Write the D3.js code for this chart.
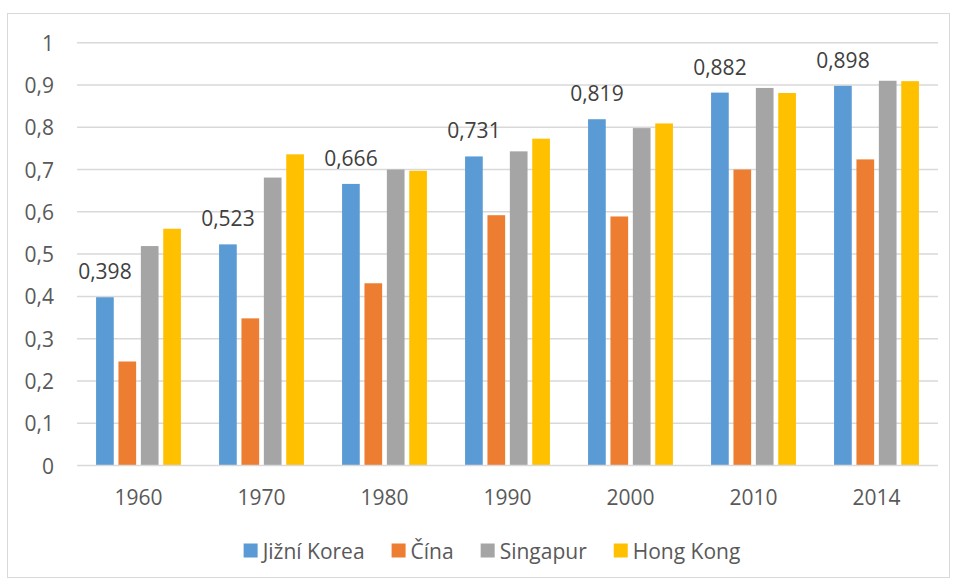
<!DOCTYPE html>
<html>
<head>
<meta charset="utf-8">
<script src="https://cdn.jsdelivr.net/npm/d3@7"></script>
<style>
  html, body { margin: 0; padding: 0; background: #fff; }
  svg { display: block; }
  text { font-family: "Open Sans", "Noto Sans", sans-serif; }
</style>
</head>
<body>
<svg id="chart" width="954" height="581"></svg>
<script>
const years = ["1960", "1970", "1980", "1990", "2000", "2010", "2014"];
const seriesNames = ["Jižní Korea", "Čína", "Singapur", "Hong Kong"];
const seriesColors = ["#5B9BD5", "#ED7D31", "#A5A5A5", "#FFC000"];
const jizniKorea = [0.398, 0.523, 0.666, 0.731, 0.819, 0.882, 0.898];
const cina = [0.246, 0.348, 0.431, 0.592, 0.589, 0.700, 0.724];
const singapur = [0.519, 0.681, 0.700, 0.743, 0.798, 0.893, 0.910];
const hongKong = [0.560, 0.736, 0.697, 0.773, 0.809, 0.881, 0.909];
const yTicks = [0, 0.1, 0.2, 0.3, 0.4, 0.5, 0.6, 0.7, 0.8, 0.9, 1];

const seriesValues = [jizniKorea, cina, singapur, hongKong];
const fmt = v => String(v).replace(".", ",");

const svg = d3.select("#chart");
const FS = 21;

// chart border
svg.append("rect")
  .attr("x", 7.5).attr("y", 13.5)
  .attr("width", 942).attr("height", 564)
  .attr("fill", "#fff").attr("stroke", "#d9d9d9").attr("stroke-width", 1);

const x = d3.scaleBand().domain(years).range([77, 938]).paddingInner(0.31).paddingOuter(0.155);
const xs = d3.scaleBand().domain(d3.range(seriesNames.length)).range([0, x.bandwidth()]).paddingInner(0.21);
const y = d3.scaleLinear().domain([0, 1]).range([465.5, 42.7]);

// gridlines
svg.append("g").selectAll("line").data(yTicks.filter(t => t > 0)).join("line")
  .attr("x1", 77).attr("x2", 938)
  .attr("y1", d => y(d)).attr("y2", d => y(d))
  .attr("stroke", "#d9d9d9").attr("stroke-width", 1.5);

// y labels
svg.append("g").selectAll("text").data(yTicks).join("text")
  .attr("x", 54).attr("y", d => y(d))
  .attr("text-anchor", "end").attr("dominant-baseline", "central")
  .attr("font-size", FS).attr("fill", "#595959")
  .text(d => fmt(d));

// bars
seriesValues.forEach((vals, si) => {
  svg.append("g").selectAll("rect").data(vals).join("rect")
    .attr("x", (d, i) => x(years[i]) + xs(si))
    .attr("width", xs.bandwidth())
    .attr("y", d => y(d))
    .attr("height", d => y(0) - y(d))
    .attr("fill", seriesColors[si]);
});

// x axis line
svg.append("line").attr("x1", 77).attr("x2", 938)
  .attr("y1", y(0)).attr("y2", y(0))
  .attr("stroke", "#d9d9d9").attr("stroke-width", 1.5);

// x labels
svg.append("g").selectAll("text").data(years).join("text")
  .attr("x", d => x(d) + x.bandwidth() / 2).attr("y", 496.5)
  .attr("text-anchor", "middle").attr("dominant-baseline", "central")
  .attr("font-size", FS).attr("fill", "#595959")
  .text(d => d);

// data labels (Jižní Korea)
svg.append("g").selectAll("text").data(jizniKorea).join("text")
  .attr("x", (d, i) => x(years[i]) + xs(0) + xs.bandwidth() / 2)
  .attr("y", d => y(d) - 26)
  .attr("text-anchor", "middle").attr("dominant-baseline", "central")
  .attr("font-size", FS).attr("fill", "#404040")
  .text(d => fmt(d));

// legend
const lg = svg.append("g");
const items = lg.selectAll("g").data(seriesNames).join("g");
items.append("rect").attr("width", 14).attr("height", 14).attr("y", -7)
  .attr("fill", (d, i) => seriesColors[i]);
items.append("text").attr("x", 19).attr("dominant-baseline", "central")
  .attr("font-size", FS).attr("fill", "#595959").text(d => d);
const GAP = 27;
let off = 0;
items.each(function () {
  const w = 19 + this.querySelector("text").getComputedTextLength();
  d3.select(this).attr("transform", `translate(${off},0)`);
  off += w + GAP;
});
const total = off - GAP;
lg.attr("transform", `translate(${492 - total / 2},550.5)`);
</script>
</body>
</html>
